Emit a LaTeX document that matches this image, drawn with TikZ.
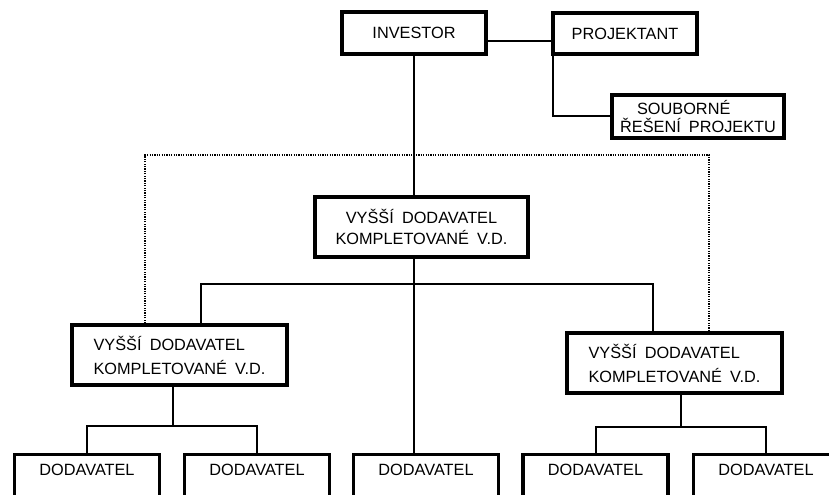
\documentclass[tikz,border=0pt]{standalone}
\usepackage{fontspec}
\setmainfont{Liberation Sans}
% widened word space used inside the box captions
\newcommand\wsp{\hspace{0.5em}}
\begin{document}
\begin{tikzpicture}[x=1bp,y=-1bp,
  box/.style={draw, line width=3.4bp, rectangle, inner sep=0pt,
    font=\fontsize{16.3bp}{24bp}\selectfont},
  vdbox/.style={box, minimum width=215bp, minimum height=60bp, align=left},
  dbox/.style={box, anchor=north, minimum width=145bp, inner ysep=9bp,
    text height=11.8bp, text depth=50bp},
  link/.style={line width=2bp},
  dots/.style={line width=1.7bp, dash pattern=on 1.2bp off 1.2bp}]
\useasboundingbox (0,0) rectangle (829,495);
\clip (0,0) rectangle (829,495);

% top row
\node[box, minimum width=144bp, minimum height=42bp] (inv) at (414,33) {INVESTOR};
\node[box, minimum width=144bp, minimum height=41bp] (proj) at (625,33.5) {PROJEKTANT};
\node[box, minimum width=172bp, minimum height=43bp, align=left,
  font=\fontsize{16.3bp}{18bp}\selectfont] (soub) at (698,116.5)
  {\hspace*{17bp}SOUBORNÉ\\ŘEŠENÍ\wsp PROJEKTU};

% main contractors
\node[box, minimum width=213bp, minimum height=60bp, align=center,
  font=\fontsize{16.3bp}{21bp}\selectfont] (vdc) at (421.5,227)
  {VYŠŠÍ\wsp DODAVATEL\\KOMPLETOVANÉ\wsp V.D.};
\node[vdbox] (vdl) at (179.5,355) {VYŠŠÍ\wsp DODAVATEL\\KOMPLETOVANÉ\wsp V.D.};
\node[vdbox] (vdr) at (674.5,363) {VYŠŠÍ\wsp DODAVATEL\\KOMPLETOVANÉ\wsp V.D.};

% suppliers
\node[dbox] (d1) at (87,453) {DODAVATEL};
\node[dbox] (d2) at (257,453) {DODAVATEL};
\node[dbox] (d3) at (426,453) {DODAVATEL};
\node[dbox] (d4) at (595.5,453) {DODAVATEL};
\node[dbox] (d5) at (766,453) {DODAVATEL};

% investor -- designer -- overall design
\coordinate (ip) at ([yshift=-8bp]inv.east);
\draw[link] (ip) -- (ip -| proj.west);
\draw[link] ([xshift=2bp]proj.south west) |- (soub.west);

% main vertical spine
\coordinate (sp) at (414,0);
\draw[link] (inv.south) -- (sp |- vdc.north);
\draw[link] (sp |- vdc.south) -- (sp |- d3.north);

% branch to the side contractors
\coordinate (hl) at (201,284);
\coordinate (hr) at (653,284);
\draw[link] (hl |- vdl.north) -- (hl) -- (hr) -- (hr |- vdr.north);

% dotted direct link
\coordinate (dl) at (145,155);
\coordinate (dr) at (709,155);
\draw[dots] (dl |- vdl.north) -- (dl) -- (dr) -- (dr |- vdr.north);

% left group of suppliers
\coordinate (bl) at (173,426);
\draw[link] (bl |- vdl.south) -- (bl);
\draw[link] (d1.north) |- (bl) -| (d2.north);

% right group of suppliers
\coordinate (br) at (681,427);
\draw[link] (br |- vdr.south) -- (br);
\draw[link] (d4.north) |- (br) -| (d5.north);
\end{tikzpicture}
\end{document}
